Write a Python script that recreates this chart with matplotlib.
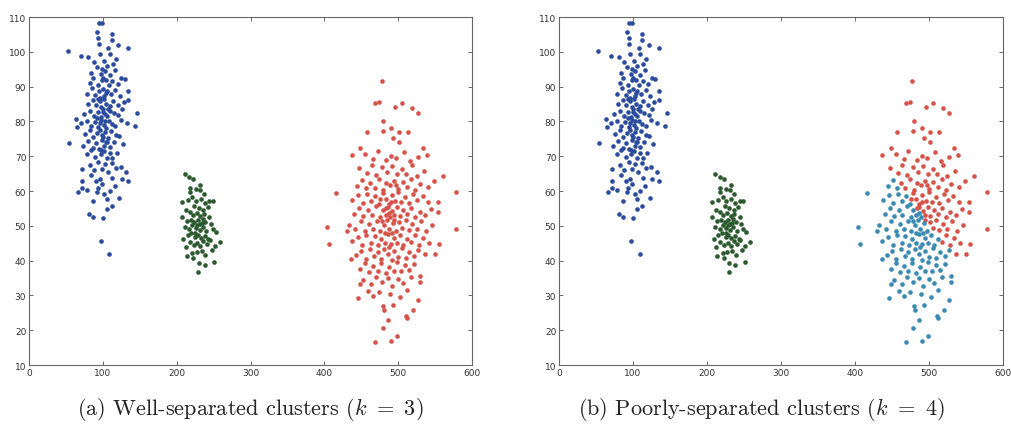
import numpy as np
import matplotlib.pyplot as plt

# cluster points (x, y)
blue_pts = [
    (95, 108.3), (98.5, 108.2), (91.7, 105.6), (112.8, 105.1), (94, 103.9), (112, 103.4),
    (94.8, 102.2), (121, 102), (134.5, 101), (53.2, 100.3), (107.5, 101), (70.4, 98.9),
    (80.4, 98.4), (96, 99.4), (109.7, 99.4), (114, 96.5), (130, 92.2), (134.5, 88.8),
    (134.5, 86.1), (145.8, 82.4), (143.6, 78.8), (63.7, 80.7), (64.6, 78.3), (54.6, 73.8),
    (71.4, 66.3), (132, 65.4), (125.5, 63.4), (134.5, 63), (71.4, 63), (71.4, 61),
    (66.8, 59.6), (91.7, 59.6), (109.7, 60.1), (122.3, 58), (87, 57.2), (105, 57.7),
    (112, 55.6), (105, 54.8), (81.7, 53.4), (86.2, 52.4), (99.8, 52.2), (97, 45.7),
    (108.8, 41.9), (96, 63.4), (98.5, 62), (90.3, 63),
    (88, 97), (101, 97.5), (105, 96), (118, 97.8), (92, 95.5),
    (84, 94), (97, 93.5), (103, 94.6), (110, 93.2), (116, 94.8), (99, 95),
    (82, 91), (87, 92.5), (93, 90.6), (99, 91.8), (104, 92), (108, 90.4), (113, 91.5),
    (120, 90.8), (125, 92.6),
    (78, 88), (85, 89.5), (90, 87.6), (95, 88.8), (100, 89.2), (102, 87.4), (106, 88.6),
    (111, 87.9), (117, 89.1), (123, 87.2),
    (80, 85), (86, 86.2), (91, 84.6), (96, 85.8), (98, 84.2), (101, 86.5), (104, 85.1),
    (109, 84.5), (114, 86), (120, 84.8), (128, 85.6),
    (74, 82), (83, 83.1), (88, 81.6), (93, 82.8), (97, 81.2), (100, 83.5), (103, 82.1),
    (106, 81.5), (110, 83), (115, 82.3), (121, 81.9), (126, 83.6),
    (70, 79.5), (78, 80.2), (84, 78.6), (89, 79.8), (94, 78.4), (98, 80.5), (101, 79),
    (104, 78.2), (108, 80), (112, 79.2), (117, 78.7), (124, 80.3), (133, 79.5),
    (76, 76.4), (82, 77.5), (87, 75.6), (92, 76.8), (96, 77.6), (100, 75.5), (103, 76.9),
    (107, 75.2), (111, 77.3), (118, 76), (122, 75.8),
    (73, 73), (80, 74.5), (86, 72.5), (91, 73.8), (95, 72.2), (99, 74.6), (102, 73),
    (106, 74), (110, 72.6), (115, 74.2), (127, 73.5),
    (78, 70.5), (84, 71.8), (90, 69.8), (97, 70.6), (101, 71.5), (105, 69.4), (109, 70.9),
    (113, 69.6), (119, 71),
    (82, 67.5), (88, 66), (94, 68.2), (99, 66.4), (103, 67.8), (107, 65.6), (112, 68),
    (118, 66.5), (124, 67),
    (93, 61), (102, 59), (116, 61.5), (84, 64.5), (79, 60.3), (113, 63.8),
    (96.5, 86.8), (99.5, 82.6), (102.5, 80.2), (95.5, 79.6), (104.5, 88.1), (100.5, 92.6),
    (93.5, 86.4), (106.5, 83.7), (98.2, 76.2), (103.8, 74.1), (97.8, 71.8), (92.6, 80.9),
]

green_pts = [
    (211.3, 64.9), (217, 63.9), (222.5, 63.4), (218, 61), (231.6, 60.4), (248.8, 57),
    (218, 59.6), (206.8, 56.7), (253.3, 48.3), (258.7, 45.3), (252, 44.1), (247.5, 43.1),
    (251, 39.7), (229.3, 36.6), (213.6, 41.4), (222.6, 40.7), (209, 46.2), (206.8, 52.4),
    (215, 57.5), (221, 58.2), (226, 57), (233, 57.8), (238, 56.5), (224, 55.8), (230, 55.2),
    (236, 54.6), (242, 55.5), (212, 54.5), (218, 54), (222, 53.2), (227, 53.8), (232, 52.9),
    (237, 53.5), (244, 52.6), (214, 51.5), (219, 51.8), (224, 51), (229, 51.6), (234, 50.8),
    (239, 51.2), (246, 50.5), (211, 49.6), (217, 49.2), (221, 50.2), (226, 49.5), (231, 48.8),
    (235, 49.7), (240, 48.6), (249, 49.2), (215, 47.5), (220, 47.8), (225, 46.9), (229, 47.4),
    (233, 46.6), (238, 47.2), (243, 46.3), (218, 45.4), (223, 44.6), (228, 45.1), (232, 44.2),
    (236, 45.5), (241, 44.8), (227, 42.5), (234, 42.8), (239, 41.6), (221, 42.2), (245, 46),
    (226, 60.5), (237, 59.2), (212, 44), (244, 57.2), (230, 39.3), (238, 38.6), (232, 61.8),
    (228, 50.1), (231, 50.4), (225, 48), (235, 52),
]

red_pts = [
    (477.7, 91.7), (468.6, 85.2), (474.5, 85.7), (495.7, 84.2), (504.8, 85.3), (518.3, 83.9),
    (526.4, 82.4), (480, 80), (457.4, 77.1), (479, 77.2), (489.9, 78.1), (501.6, 77.1),
    (513.7, 77.1), (493.4, 75.2), (501.6, 74), (448.3, 72.4), (437.1, 70.3), (534, 72.4),
    (538.6, 70.4), (561.2, 64.4), (415.8, 59.4), (577.9, 59.8), (404, 49.6), (406.3, 44.8),
    (430.3, 48.6), (577.9, 49.1), (554.4, 56.7), (554.4, 53.9), (555.3, 44.8), (549.9, 41.9),
    (436.2, 40.5), (446, 29.2), (448.3, 33.3), (459.6, 31.4), (480, 26.9), (481, 25.8),
    (486.7, 23), (493.4, 27.2), (510.6, 24.2), (512, 23.6), (520.5, 25.9), (527.3, 28.7),
    (479, 20.7), (468.6, 16.7), (490.3, 17), (498, 18.2), (529.6, 33.8), (530, 35.5),
    (455, 70.5), (466, 69.2), (472, 71.6), (484, 68.8), (490, 70.2), (497, 69.6), (508, 71.2),
    (516, 68.5), (527, 69.8),
    (447, 66.5), (458, 65.2), (464, 67.4), (470, 64.6), (478, 66.8), (485, 65.5), (492, 67.2),
    (499, 64.8), (505, 66.3), (511, 65), (519, 67.6), (525, 64.3), (535, 65.8),
    (444, 61.5), (451, 63.2), (457, 60.8), (462, 62.4), (468, 61), (474, 63.5), (480, 60.4),
    (484, 62.2), (489, 61.6), (495, 63), (500, 60.6), (506, 62.5), (512, 61.2), (518, 63.4),
    (523, 60.3), (530, 62), (541, 61.2), (548, 63),
    (438, 57.5), (446, 58.8), (452, 56.6), (458, 59.2), (463, 57.2), (469, 58.5), (474, 56.4),
    (479, 59.5), (483, 57.8), (487, 56.2), (491, 58.8), (496, 57), (500, 59.6), (504, 56.8),
    (509, 58.2), (514, 56.5), (520, 59), (526, 57.3), (533, 58.6), (540, 56.8),
    (440, 53.5), (447, 55.2), (453, 52.8), (459, 54.6), (464, 53.1), (470, 55.6), (475, 52.6),
    (479, 54.5), (483, 53.2), (486, 55.5), (489, 52.4), (492, 54.2), (495, 53), (498, 55.3),
    (502, 52.7), (507, 54.4), (512, 53.3), (518, 55.1), (523, 52.5), (529, 54), (536, 53.2),
    (545, 54.8),
    (433, 50.3), (442, 49.2), (449, 51.4), (455, 48.6), (461, 50.6), (466, 49), (471, 51.5),
    (476, 48.4), (481, 50.2), (485, 51.6), (488, 49.1), (493, 50.8), (497, 48.6), (501, 51.2),
    (505, 49.4), (510, 51.8), (514, 48.8), (519, 50.4), (525, 49), (531, 51.3), (538, 48.5),
    (546, 50.2),
    (437, 45.5), (445, 46.8), (451, 44.6), (457, 47.4), (463, 45.2), (468, 47), (473, 44.4),
    (477, 46.3), (482, 45), (486, 47.6), (490, 44.8), (494, 46.4), (498, 45.2), (503, 47.3),
    (507, 44.5), (512, 46.1), (517, 45.4), (523, 47.5), (528, 44.6), (534, 46.6), (542, 45.2),
    (443, 41.5), (450, 42.8), (456, 40.6), (462, 43.2), (467, 41.2), (472, 42.6), (477, 40.4),
    (481, 43.4), (486, 41.8), (491, 40.2), (495, 42.9), (500, 41), (505, 43.6), (510, 40.8),
    (515, 42.4), (521, 41.2), (527, 43), (536, 41.8),
    (448, 37.6), (455, 39.2), (461, 36.8), (466, 38.5), (472, 37), (477, 39.4), (483, 36.5),
    (488, 38.2), (494, 37.1), (499, 39.5), (504, 36.9), (509, 38.6), (515, 37.4), (522, 39),
    (453, 34.5), (463, 33.2), (470, 35.4), (478, 33.8), (486, 35), (492, 32.6), (500, 34.8),
    (507, 33.5), (517, 35.2),
    (466, 29.8), (474, 31), (489, 30.3), (503, 29.4), (512, 31.6),
    (484, 55), (487, 53.8), (490, 56.8), (478, 51.4), (495, 51.6), (482, 47.8), (492, 48),
    (488, 44), (475, 57.8), (497, 61.8),
]

# dividing line between the two halves of the right cluster when k = 4
split_x = [430, 456, 510, 540]
split_y = [72, 63, 47, 40]

c_blue = '#2b4c9e'
c_green = '#2c5a2e'
c_red = '#d6534a'
c_cyan = '#3a8ab4'

captions = ['(a) Well-separated clusters ($k\\ =\\ 3$)', '(b) Poorly-separated clusters ($k\\ =\\ 4$)']

plt.rcParams['mathtext.fontset'] = 'cm'

blue = np.array(blue_pts)
green = np.array(green_pts)
red = np.array(red_pts)
upper = red[:, 1] > np.interp(red[:, 0], split_x, split_y)

fig = plt.figure(figsize=(10.12, 4.31), dpi=100)
ax1 = fig.add_axes([0.0287, 0.1508, 0.4377, 0.8074])
ax2 = fig.add_axes([0.5524, 0.1508, 0.4387, 0.8074])

def draw(ax, groups):
    for pts, col in groups:
        ax.scatter(pts[:, 0], pts[:, 1], s=11, c=col, linewidths=0)
    ax.set_xlim(0, 600)
    ax.set_ylim(10, 110)
    ax.set_xticks(range(0, 601, 100))
    ax.set_yticks(range(10, 111, 10))
    ax.tick_params(direction='in', top=True, right=True, length=3, width=0.6,
                   labelsize=6.5, labelcolor='#333333', color='#555555', pad=2)
    for sp in ax.spines.values():
        sp.set_color('#666666')
        sp.set_linewidth(0.8)

draw(ax1, [(blue, c_blue), (green, c_green), (red, c_red)])
draw(ax2, [(blue, c_blue), (green, c_green), (red[upper], c_red), (red[~upper], c_cyan)])

for xc, cap in zip([0.2475, 0.7520], captions):
    fig.text(xc, 0.049, cap, ha='center', va='center',
             fontsize=16, family='cmr10', color='#222222')

fig.savefig('out.png', dpi=100)
